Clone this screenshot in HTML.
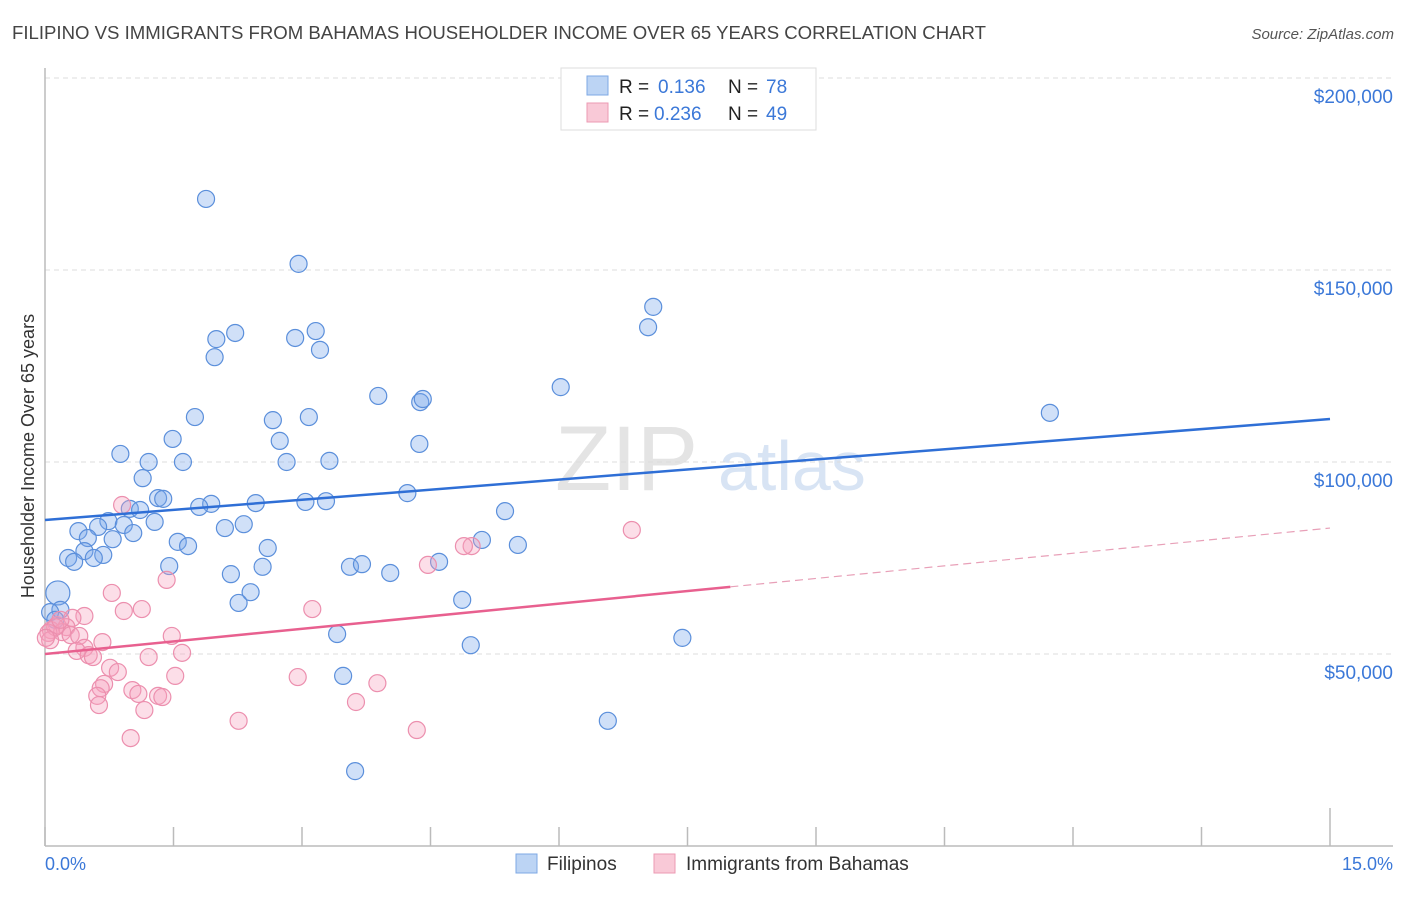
<!DOCTYPE html>
<html><head><meta charset="utf-8"><style>
body{margin:0;background:#fff;font-family:"Liberation Sans",sans-serif;}
svg text{font-family:"Liberation Sans",sans-serif;}
</style></head><body>
<svg width="1406" height="892" viewBox="0 0 1406 892">
<text x="12" y="39" font-size="18.5" fill="#444" textLength="974" lengthAdjust="spacingAndGlyphs">FILIPINO VS IMMIGRANTS FROM BAHAMAS HOUSEHOLDER INCOME OVER 65 YEARS CORRELATION CHART</text>
<text x="1394" y="39" font-size="15" fill="#555" font-style="italic" text-anchor="end">Source: ZipAtlas.com</text>
<g>
<text x="555" y="490" font-size="92" fill="#e4e4e4" font-family="Liberation Serif">ZIP</text>
<text x="718" y="490" font-size="70" fill="#d8e4f4">atlas</text>
</g>
<g id="grid"></g>
<g id="axes"></g>
<g id="marks"></g>
<text transform="translate(34,456) rotate(-90)" font-size="18" fill="#333" text-anchor="middle">Householder Income Over 65 years</text>
<text x="45" y="870" font-size="18" fill="#3b78d8">0.0%</text>
<text x="1393" y="870" font-size="18" fill="#3b78d8" text-anchor="end">15.0%</text>
<g>
<rect x="561" y="68" width="255" height="62" fill="#fff" stroke="#ddd"/>
<rect x="587" y="76" width="21" height="19" fill="#bcd4f4" stroke="#7ea8e4"/>
<rect x="587" y="103" width="21" height="19" fill="#f9c9d7" stroke="#ec9ab3"/>
<text x="619" y="93" font-size="19" fill="#222">R = <tspan fill="#3b78d8" x="658">0.136</tspan><tspan x="728">N = </tspan><tspan fill="#3b78d8" x="766">78</tspan></text>
<text x="619" y="120" font-size="19" fill="#222">R = <tspan fill="#3b78d8" x="654">0.236</tspan><tspan x="728">N = </tspan><tspan fill="#3b78d8" x="766">49</tspan></text>
</g>
<g>
<rect x="516" y="854" width="21" height="19" fill="#bcd4f4" stroke="#7ea8e4"/>
<text x="547" y="870" font-size="19" fill="#333">Filipinos</text>
<rect x="654" y="854" width="21" height="19" fill="#f9c9d7" stroke="#ec9ab3"/>
<text x="686" y="870" font-size="19" fill="#333">Immigrants from Bahamas</text>
</g>
</svg>
<script>
const yTicks=[50000,100000,150000,200000];
const yTickLabels=["$50,000","$100,000","$150,000","$200,000"];
const xTicks=[0,1.5,3,4.5,6,7.5,9,10.5,12,13.5,15];
const blueX=[1.88,2.96,7.10,7.04,3.16,2.22,2.00,2.92,3.21,1.98,6.02,3.89,4.38,4.41,11.73,1.75,2.66,3.08,1.49,2.74,4.37,0.88,1.21,1.61,2.82,3.32,1.14,4.23,1.32,1.38,2.46,1.94,3.04,3.28,1.80,0.99,1.11,5.37,0.74,1.28,0.92,0.39,0.62,2.10,2.32,0.50,0.79,1.03,1.55,5.10,5.52,1.67,2.60,0.46,0.27,0.68,0.57,0.34,1.45,3.56,3.70,2.54,4.60,2.17,4.03,2.40,2.26,4.87,0.15,0.18,0.06,3.41,7.44,4.97,3.48,6.57,3.62,0.12];
const blueY=[168.5,151.6,140.4,135.1,134.1,133.6,132.0,132.3,129.2,127.3,119.5,117.2,115.6,116.4,112.8,111.7,110.9,111.7,106.0,105.5,104.7,102.1,100.0,100.0,100.0,100.3,95.8,91.9,90.6,90.4,89.3,89.1,89.6,89.8,88.3,87.8,87.5,87.2,84.6,84.4,83.6,82.0,83.1,82.8,83.8,80.2,79.9,81.5,79.2,79.7,78.4,78.1,77.6,76.8,75.0,75.8,75.0,74.0,72.9,72.7,73.4,72.7,74.0,70.8,71.1,66.1,63.3,64.1,65.9,61.5,60.9,55.2,54.2,52.3,44.3,32.6,19.5,58.9];
const pinkX=[0.90,6.85,4.98,4.89,4.47,1.42,0.78,1.13,0.92,3.12,0.46,0.32,0.14,0.25,0.07,0.20,0.04,0.30,0.40,0.67,1.48,0.46,0.37,0.51,0.56,1.21,1.60,0.76,0.85,1.52,2.95,3.88,0.69,0.65,1.02,1.09,0.61,1.32,1.37,0.63,1.16,3.63,2.26,4.34,1.00,0.12,0.06,0.18,0.01];
const pinkY=[88.8,82.3,78.1,78.1,73.2,69.3,65.9,61.7,61.2,61.7,59.9,59.4,57.5,57.0,56.2,55.7,55.5,54.9,54.7,53.1,54.7,51.6,50.8,49.7,49.2,49.2,50.3,46.4,45.3,44.3,44.0,42.4,42.2,41.1,40.6,39.6,39.1,39.1,38.8,36.7,35.4,37.5,32.6,30.2,28.1,57.0,53.6,58.9,54.2];
const blueTrend=[84.9,111.2];
const pinkTrend=[50.0,82.8];
const pinkSolidEnd=8.0;

const NS="http://www.w3.org/2000/svg";
const X0=45,X1=1330,Y0=846;
const xs=v=>X0+(v/15)*(X1-X0);
const ys=v=>Y0-(v/200000)*(Y0-78);
function mk(tag,attrs,parent){const e=document.createElementNS(NS,tag);for(const k in attrs)e.setAttribute(k,attrs[k]);parent.appendChild(e);return e;}
const grid=document.getElementById('grid'),axes=document.getElementById('axes'),marks=document.getElementById('marks');
yTicks.forEach((t,i)=>{
 const l=mk('line',{x1:X0,x2:1393,y1:ys(t),y2:ys(t),stroke:'#ddd','stroke-dasharray':'5,4'},grid);
 
 
 const tx=mk('text',{x:1393,y:ys(t)+25,'font-size':19,fill:'#3b78d8','text-anchor':'end'},grid);
 tx.textContent=yTickLabels[i];
 
 
});
const topLine=mk('line',{x1:X0,x2:1393,y1:78,y2:78,stroke:'#ddd','stroke-dasharray':'5,4'},grid);


const ya=mk('line',{x1:X0,x2:X0,y1:68,y2:Y0,stroke:'#bbb','stroke-width':1.5},axes);


const xa=mk('line',{x1:X0,x2:1393,y1:Y0,y2:Y0,stroke:'#bbb','stroke-width':1.5},axes);


xTicks.forEach((t,i)=>{
 const tk=mk('line',{x1:xs(t),x2:xs(t),y1:(i==xTicks.length-1?808:827),y2:Y0,stroke:'#bbb','stroke-width':1.5},axes);
 
 
});
function dot(x,y,c,f,r,name){
 const e=mk('circle',{cx:xs(x),cy:ys(y*1000),r:r,fill:f,stroke:c,'stroke-width':1.2},marks);
 
 
}
blueX.forEach((x,i)=>dot(x,blueY[i],'#5b8fdb','rgba(120,165,235,0.35)',(x<0.2&&blueY[i]>64)?12:8.5,'filipino-point'));
pinkX.forEach((x,i)=>dot(x,pinkY[i],'#ec8fae','rgba(245,160,190,0.35)',8.5,'bahamas-point'));
const bl=mk('line',{x1:xs(0),y1:ys(blueTrend[0]*1000),x2:xs(15),y2:ys(blueTrend[1]*1000),stroke:'#2f6fd6','stroke-width':2.5},marks);


const pm=pinkTrend[0]+(pinkTrend[1]-pinkTrend[0])*pinkSolidEnd/15;
const pl=mk('line',{x1:xs(0),y1:ys(pinkTrend[0]*1000),x2:xs(pinkSolidEnd),y2:ys(pm*1000),stroke:'#e8608f','stroke-width':2.5},marks);


const pd=mk('line',{x1:xs(pinkSolidEnd),y1:ys(pm*1000),x2:xs(15),y2:ys(pinkTrend[1]*1000),stroke:'#e8a0b8','stroke-width':1.2,'stroke-dasharray':'8,5'},marks);


</script>
</body></html>
